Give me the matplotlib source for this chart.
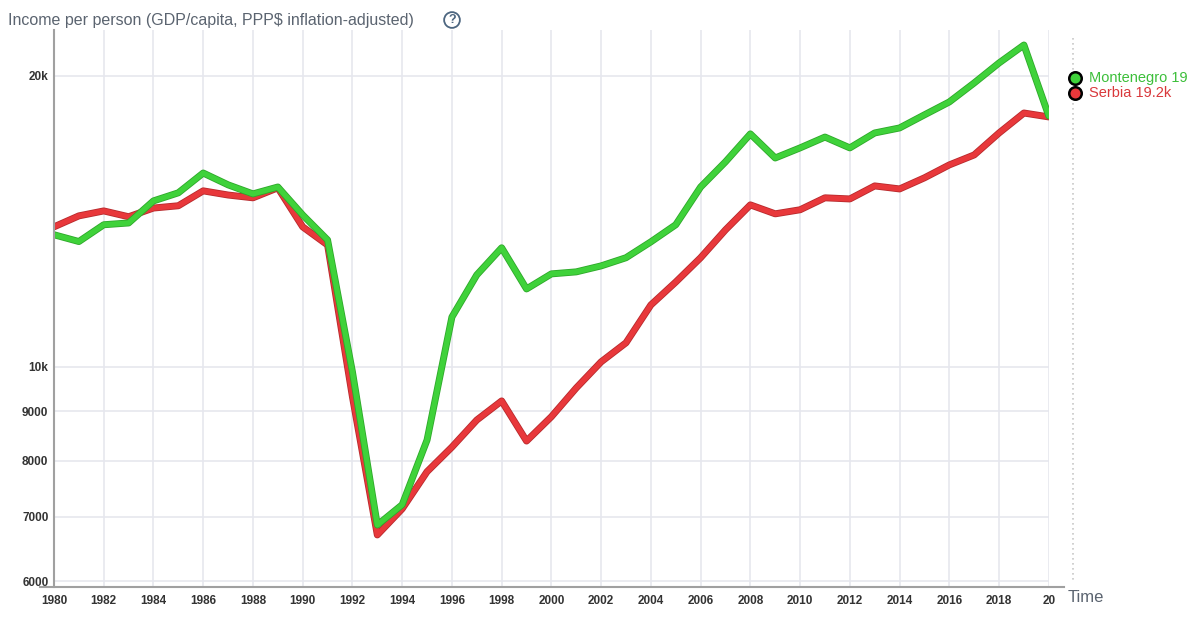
import matplotlib
matplotlib.use('Agg')
import matplotlib.pyplot as plt
import matplotlib.patheffects as pe

plt.rcParams['font.family'] = ['Liberation Sans', 'DejaVu Sans']

# Роки та дохід на особу (GDP/capita, PPP$)
years = list(range(1980, 2021))
montenegro = [13700, 13480, 14030, 14090, 14850, 15140, 15870, 15430, 15100, 15350,
              14360, 13530, 9880, 6860, 7200, 8400, 11260, 12450, 13280, 12040,
              12480, 12540, 12720, 12970, 13470, 14030, 15350, 16300, 17420, 16450,
              16850, 17290, 16850, 17460, 17670, 18230, 18800, 19670, 20630, 21530,
              18180]
serbia = [13960, 14330, 14500, 14300, 14600, 14680, 15210, 15060, 14960, 15320,
          13960, 13370, 9310, 6700, 7130, 7790, 8260, 8810, 9220, 8380,
          8880, 9510, 10120, 10590, 11590, 12240, 12970, 13860, 14710, 14400,
          14540, 14960, 14920, 15390, 15280, 15690, 16180, 16570, 17460, 18310,
          18140]

x_ticks = list(range(1980, 2021, 2))
x_labels = [str(y) for y in x_ticks[:-1]] + ['20']
y_ticks = [6000, 7000, 8000, 9000, 10000, 20000]
y_labels = ['6000', '7000', '8000', '9000', '10k', '20k']

green = '#3fd23a'
green_edge = '#2ea82a'
red = '#e8383b'
red_edge = '#b82a2d'

fig = plt.figure(figsize=(12, 6.23), dpi=100)
ax = fig.add_axes([0.045, 0.058, 0.829, 0.894])

ax.set_yscale('log')
ax.set_xlim(1980, 2020)
ax.set_ylim(5920, 22320)

ax.set_xticks(x_ticks)
ax.set_xticklabels(x_labels)
ax.set_yticks(y_ticks)
ax.set_yticklabels(y_labels)
ax.yaxis.set_minor_locator(plt.NullLocator())
ax.tick_params(axis='both', length=0, labelsize=8.5, labelcolor='#333333')
ax.tick_params(axis='x', pad=6)
ax.tick_params(axis='y', pad=4)
for lab in ax.get_xticklabels() + ax.get_yticklabels():
    lab.set_fontweight('bold')

ax.grid(True, color='#e6e7ee', linewidth=1.2)
ax.set_axisbelow(True)
for s in ['top', 'right', 'bottom']:
    ax.spines[s].set_visible(False)
ax.spines['left'].set_color('#a0a0a0')
ax.spines['left'].set_linewidth(1.5)
# нижня вісь трохи довша за область графіка
ax.plot([-0.014, 1.015], [0, 0], transform=ax.transAxes, clip_on=False,
        color='#a0a0a0', linewidth=1.5)

ax.plot(years, serbia, color=red, linewidth=3.8, solid_capstyle='round',
        solid_joinstyle='round',
        path_effects=[pe.Stroke(linewidth=5, foreground=red_edge), pe.Normal()])
ax.plot(years, montenegro, color=green, linewidth=3.8, solid_capstyle='round',
        solid_joinstyle='round',
        path_effects=[pe.Stroke(linewidth=5, foreground=green_edge), pe.Normal()])

# пунктирна лінія та підписи праворуч
fig.add_artist(plt.Line2D([1073 / 1200, 1073 / 1200], [1 - 38 / 623, 1 - 582 / 623],
                          color='#c8c8c8', linewidth=1.2, linestyle=(0, (1, 2))))
fig.add_artist(plt.Line2D([1075 / 1200], [1 - 78 / 623], marker='o', markersize=9,
                          markerfacecolor=green, markeredgecolor='black',
                          markeredgewidth=1.8))
fig.add_artist(plt.Line2D([1075 / 1200], [1 - 93 / 623], marker='o', markersize=9,
                          markerfacecolor=red, markeredgecolor='black',
                          markeredgewidth=1.8))
fig.text(1089 / 1200, 1 - 78 / 623, 'Montenegro 19', color='#3cbf3a', fontsize=10.5,
         va='center', ha='left')
fig.text(1089 / 1200, 1 - 93 / 623, 'Serbia 19.2k', color='#d9383b', fontsize=10.5,
         va='center', ha='left')

fig.text(8 / 1200, 1 - 20 / 623, 'Income per person (GDP/capita, PPP$ inflation-adjusted)',
         color='#5b6470', fontsize=11.5, va='center', ha='left')
fig.text(452 / 1200, 1 - 20 / 623, '?', color='#4d6680', fontsize=9, fontweight='bold',
         va='center', ha='center',
         bbox=dict(boxstyle='circle,pad=0.15', facecolor='white', edgecolor='#4d6680',
                   linewidth=1.3))
fig.text(1068 / 1200, 1 - 597 / 623, 'Time', color='#5b6470', fontsize=12,
         va='center', ha='left')

fig.savefig('out.png', dpi=100)
